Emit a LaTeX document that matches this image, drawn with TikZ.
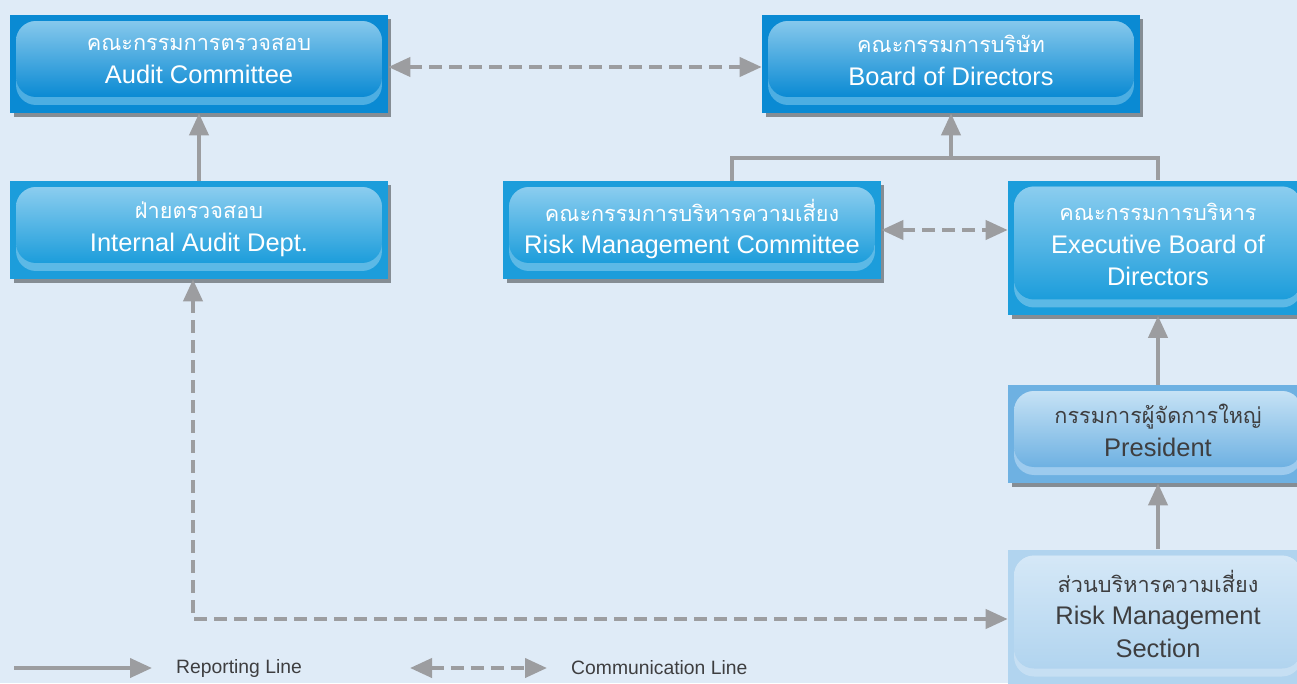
\documentclass[tikz,border=0pt]{standalone}
\usepackage{fontspec}
\setmainfont{Liberation Sans}
\newfontfamily\thaifont[Script=Thai,Scale=0.85]{Loma}
\usetikzlibrary{arrows.meta,shadows}

\definecolor{pagebg}{HTML}{DFEBF7}
\definecolor{linegray}{HTML}{9C9DA0}
\definecolor{darkblue}{HTML}{0A8AD3}
\definecolor{darkblueTop}{HTML}{86C8EC}
\definecolor{darkblueBand}{HTML}{4DAEE2}
\definecolor{midblue}{HTML}{1C9DDB}
\definecolor{midblueTop}{HTML}{8BCDEF}
\definecolor{midblueBand}{HTML}{5CB9E6}
\definecolor{paleblue}{HTML}{6EB1E2}
\definecolor{paleblueTop}{HTML}{C6E2F5}
\definecolor{paleblueBand}{HTML}{9DCBEE}
\definecolor{skyblue}{HTML}{B1D4EF}
\definecolor{skyblueTop}{HTML}{D5E8F7}
\definecolor{skyblueBand}{HTML}{C6DFF3}
\definecolor{textgray}{HTML}{3E3E40}

\begin{document}
\begin{tikzpicture}[x=0.02cm,y=-0.02cm,>={Triangle[length=0.44cm,width=0.38cm]},
    chart box/.style n args={3}{rectangle,inner sep=0pt,align=center,fill=#1,
        minimum width=7.56cm,minimum height=1.96cm,font=\fontsize{14.5}{18.5}\selectfont,
        execute at end node={\rule[-4pt]{0pt}{0pt}},
        drop shadow={shadow xshift=0.07cm,shadow yshift=-0.08cm,opacity=0.4,fill=black},
        path picture={
            \fill[#3,rounded corners=0.4cm] ([shift={(0.12cm,-0.12cm)}]path picture bounding box.north west) rectangle ([shift={(-0.12cm,0.16cm)}]path picture bounding box.south east);
            \shade[top color=#2,middle color=#1,bottom color=#1,rounded corners=0.4cm] ([shift={(0.12cm,-0.12cm)}]path picture bounding box.north west) rectangle ([shift={(-0.12cm,0.32cm)}]path picture bounding box.south east);
        }},
    board box/.style={chart box={darkblue}{darkblueTop}{darkblueBand},text=white},
    unit box/.style={chart box={midblue}{midblueTop}{midblueBand},text=white},
    wide box/.style={minimum width=6cm,minimum height=2.7cm},
    report/.style={draw=linegray,line width=0.08cm,->},
    link/.style={draw=linegray,line width=0.08cm,dash pattern=on 0.26cm off 0.14cm,<->},
    legend/.style={text=textgray,font=\fontsize{11}{13}\selectfont,anchor=west}]

    \fill[pagebg] (0,0) rectangle (1297,683);
    \useasboundingbox (0,0) rectangle (1297,683);

    % committees on top
    \node[board box] (audit) at (199,64) {{\thaifont คณะกรรมการตรวจสอบ}\\Audit Committee};
    \node[board box] (board) at (951,64) {{\thaifont คณะกรรมการบริษัท}\\Board of Directors};

    % second row
    \node[unit box] (iad) at (199,230) {{\thaifont ฝ่ายตรวจสอบ}\\Internal Audit Dept.};
    \node[unit box] (rmc) at (692,230) {{\thaifont คณะกรรมการบริหารความเสี่ยง}\\Risk Management Committee};
    \node[unit box,wide box] (exec) at (1158,248) {{\thaifont คณะกรรมการบริหาร}\\Executive Board of\\Directors};

    % right column
    \node[chart box={paleblue}{paleblueTop}{paleblueBand},text=textgray,minimum width=6cm] (pres) at (1158,434) {{\thaifont กรรมการผู้จัดการใหญ่}\\President};
    \node[chart box={skyblue}{skyblueTop}{skyblueBand},text=textgray,wide box] (rms) at (1158,617) {{\thaifont ส่วนบริหารความเสี่ยง}\\Risk Management\\Section};

    % reporting lines
    \coordinate (bus) at (951,158);
    \draw[report] (iad) -- (audit);
    \draw[draw=linegray,line width=0.08cm] ([xshift=0.8cm]rmc.north) |- (bus) -| (exec.north);
    \draw[report] (bus) -- (board);
    \draw[report] (pres) -- (exec);
    \draw[report] (rms) -- (pres);

    % communication lines
    \draw[link] ([yshift=-0.06cm]audit.east) -- ([yshift=-0.06cm]board.west);
    \draw[link] (rmc.east) -- (exec.west |- rmc.east);
    \draw[link] ([xshift=-0.12cm]iad.south) |- ([yshift=-0.04cm]rms.west);

    % legend
    \coordinate (r1) at (14,668);
    \coordinate (r2) at (152,668);
    \coordinate (c1) at (410,668);
    \coordinate (c2) at (547,668);
    \draw[report] (r1) -- (r2);
    \node[legend] (rlabel) at (170,668) {Reporting Line};
    \draw[link] (c1) -- (c2);
    \node[legend] (clabel) at (565,668) {Communication Line};
\end{tikzpicture}
\end{document}
